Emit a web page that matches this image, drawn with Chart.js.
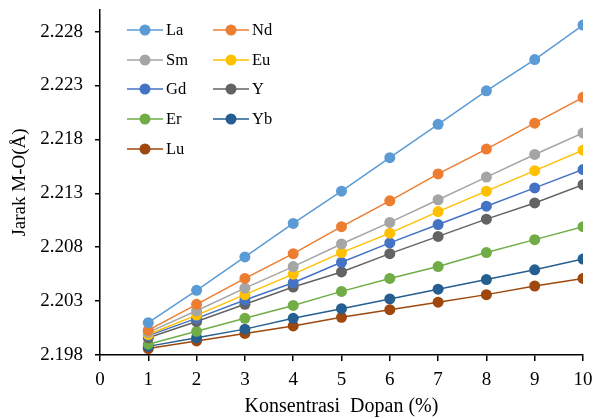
<!DOCTYPE html>
<html lang="en">
<head>
    <meta charset="UTF-8">
    <title>Jarak M-O vs Konsentrasi Dopan</title>
    <script src="https://cdn.jsdelivr.net/npm/chart.js"></script>
    <style>
        body {
            margin: 0;
            background-color: #fff;
        }

        .chart-box {
            width: 596px;
            height: 419px;
        }
    </style>
</head>
<body>
    <div class="chart-box">
        <canvas id="myChart" width="596" height="419"></canvas>
    </div>

    <script>
        // konsentrasi dopan (%)
        const dopan = [1, 2, 3, 4, 5, 6, 7, 8, 9, 10];

        const seriesNames = ['La', 'Nd', 'Sm', 'Eu', 'Gd', 'Y', 'Er', 'Yb', 'Lu'];
        const seriesColors = ['#5B9BD5', '#ED7D31', '#A5A5A5', '#FFC000', '#4472C4', '#636363', '#70AD47', '#255E91', '#9E480E'];

        // Jarak M-O (Å)
        const La = [2.2010, 2.2040, 2.2071, 2.2102, 2.2132, 2.2163, 2.2194, 2.2225, 2.2254, 2.2286];
        const Nd = [2.2003, 2.2027, 2.2051, 2.2074, 2.2099, 2.2123, 2.2148, 2.2171, 2.2195, 2.2219];
        const Sm = [2.2001, 2.2021, 2.2042, 2.2062, 2.2083, 2.2103, 2.2124, 2.2145, 2.2166, 2.2186];
        const Eu = [2.1999, 2.2017, 2.2036, 2.2055, 2.2075, 2.2093, 2.2113, 2.2132, 2.2151, 2.2170];
        const Gd = [2.1998, 2.2014, 2.2031, 2.2047, 2.2066, 2.2084, 2.2101, 2.2118, 2.2135, 2.2152];
        const Y  = [2.1996, 2.2011, 2.2027, 2.2043, 2.2057, 2.2074, 2.2090, 2.2106, 2.2121, 2.2138];
        const Er = [2.1990, 2.2002, 2.2014, 2.2026, 2.2039, 2.2051, 2.2062, 2.2075, 2.2087, 2.2099];
        const Yb = [2.1988, 2.1996, 2.2004, 2.2014, 2.2023, 2.2032, 2.2041, 2.2050, 2.2059, 2.2069];
        const Lu = [2.1986, 2.1993, 2.2000, 2.2007, 2.2015, 2.2022, 2.2029, 2.2036, 2.2044, 2.2051];

        const yTicks = [2.198, 2.203, 2.208, 2.213, 2.218, 2.223, 2.228];
        const xTicks = [0, 1, 2, 3, 4, 5, 6, 7, 8, 9, 10];

        const allValues = [La, Nd, Sm, Eu, Gd, Y, Er, Yb, Lu];

        const serif = 'Liberation Serif, Times New Roman, serif';

        const datasets = seriesNames.map((name, i) => ({
            label: name,
            data: dopan.map((x, j) => ({ x: x, y: allValues[i][j] })),
            borderColor: seriesColors[i],
            backgroundColor: seriesColors[i],
            borderWidth: 1.5,
            pointRadius: 5.5,
            pointHoverRadius: 5.5,
            pointBorderWidth: 0,
            tension: 0
        }));

        // legend inside plot, two columns like the original
        const insideLegend = {
            id: 'insideLegend',
            afterDraw(chart) {
                const ctx = chart.ctx;
                const cols = [127, 213];
                const rowY = [30, 60, 89, 119, 149];
                ctx.save();
                ctx.font = '16.5px ' + serif;
                ctx.textBaseline = 'middle';
                chart.data.datasets.forEach((ds, i) => {
                    const x0 = cols[i % 2];
                    const y0 = rowY[Math.floor(i / 2)];
                    ctx.strokeStyle = ds.borderColor;
                    ctx.lineWidth = 1.5;
                    ctx.beginPath();
                    ctx.moveTo(x0, y0);
                    ctx.lineTo(x0 + 36, y0);
                    ctx.stroke();
                    ctx.fillStyle = ds.backgroundColor;
                    ctx.beginPath();
                    ctx.arc(x0 + 18, y0, 5.5, 0, Math.PI * 2);
                    ctx.fill();
                    ctx.fillStyle = '#000';
                    ctx.fillText(ds.label, x0 + 39, y0 + 1);
                });
                ctx.restore();
            }
        };

        const ctx = document.getElementById('myChart').getContext('2d');
        new Chart(ctx, {
            type: 'line',
            data: { datasets: datasets },
            options: {
                responsive: false,
                animation: false,
                layout: {
                    padding: { left: 0, right: 13, top: 10, bottom: 0 }
                },
                plugins: {
                    legend: { display: false },
                    tooltip: { enabled: false }
                },
                scales: {
                    x: {
                        type: 'linear',
                        min: 0,
                        max: 10,
                        afterBuildTicks: (scale) => {
                            scale.ticks = xTicks.map(v => ({ value: v }));
                        },
                        afterFit: (scale) => {
                            scale.height = 64;
                            scale.paddingLeft = 0;
                            scale.paddingRight = 0;
                        },
                        grid: {
                            drawOnChartArea: false,
                            drawTicks: true,
                            tickLength: 6,
                            color: '#000',
                            lineWidth: 1.5
                        },
                        border: { color: '#000', width: 1.5 },
                        ticks: {
                            color: '#000',
                            font: { family: serif, size: 19 },
                            padding: 8,
                            maxRotation: 0
                        },
                        title: {
                            display: true,
                            text: 'Konsentrasi  Dopan (%)',
                            color: '#000',
                            font: { family: serif, size: 20 },
                            padding: { top: 0, bottom: 0 }
                        }
                    },
                    y: {
                        min: 2.198,
                        max: 2.230,
                        afterBuildTicks: (scale) => {
                            scale.ticks = yTicks.map(v => ({ value: v }));
                        },
                        afterFit: (scale) => {
                            scale.width = 100;
                            scale.paddingTop = 0;
                            scale.paddingBottom = 0;
                        },
                        grid: {
                            drawOnChartArea: false,
                            drawTicks: true,
                            tickLength: 5,
                            color: '#000',
                            lineWidth: 1.5
                        },
                        border: { color: '#000', width: 1.5 },
                        ticks: {
                            color: '#000',
                            font: { family: serif, size: 19 },
                            padding: 12,
                            callback: (v) => v.toFixed(3)
                        },
                        title: {
                            display: true,
                            text: 'Jarak M-O(Å)',
                            color: '#000',
                            font: { family: serif, size: 19 },
                            padding: { top: 9, bottom: 0 }
                        }
                    }
                }
            },
            plugins: [insideLegend]
        });
    </script>
</body>
</html>
